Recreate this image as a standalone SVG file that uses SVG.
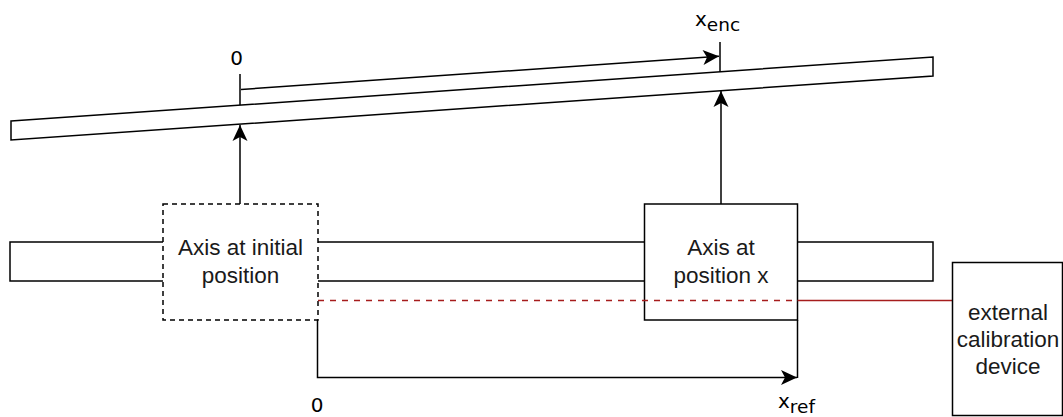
<svg xmlns="http://www.w3.org/2000/svg" width="1063" height="417" viewBox="0 0 1063 417">
<defs>
<style>
.ln{fill:none;stroke:#000;stroke-width:1.5}
.box{fill:#fff;stroke:#000;stroke-width:1.5}
.dash{stroke-dasharray:5 4}
.red{fill:none;stroke:#a61c1c;stroke-width:1.5}
.t{font-family:"Liberation Sans",Arial,sans-serif;font-size:22.5px;fill:#1a1a1a;text-anchor:middle}
.m{font-family:"DejaVu Sans",Verdana,sans-serif;font-size:20px;fill:#000}
.s{font-size:18.5px}
</style>
<marker id="arr" markerUnits="userSpaceOnUse" markerWidth="17" markerHeight="16" refX="16" refY="7.5" orient="auto" overflow="visible">
<path d="M0,0 L16,7.5 L0,15 L4,7.5 Z" fill="#000"/>
</marker>
</defs>
<g id="encoder-scale">
<polygon class="box" points="11,121 933,57 933,76 11,140"/>
</g>
<g id="axis-rail">
<rect class="box" x="10" y="242" width="923" height="39"/>
</g>
<g id="connectors">
<line class="ln" x1="240" y1="74" x2="240" y2="105"/>
<line class="ln" x1="720" y1="42" x2="720" y2="72"/>
<line class="ln" x1="241" y1="89.5" x2="719" y2="56.3" marker-end="url(#arr)"/>
<line class="ln" x1="240" y1="204" x2="240" y2="125" marker-end="url(#arr)"/>
<line class="ln" x1="721" y1="204" x2="721" y2="91" marker-end="url(#arr)"/>
<path class="ln" d="M317.5,320 V377.5 H797" marker-end="url(#arr)"/>
<line class="ln" x1="797.5" y1="320" x2="797.5" y2="378"/>
</g>
<g id="axis-initial">
<rect class="box dash" x="163" y="204" width="155" height="116"/>
<text class="t" x="240.5" y="255">Axis at initial</text>
<text class="t" x="240.5" y="283">position</text>
</g>
<g id="axis-x">
<rect class="box" x="644.5" y="204" width="153" height="116"/>
<text class="t" x="721" y="255">Axis at</text>
<text class="t" x="721" y="283">position x</text>
</g>
<g id="calibration-line">
<line class="red" x1="318" y1="300.5" x2="797.5" y2="300.5" stroke-dasharray="6 6"/>
<line class="red" x1="797.5" y1="300.5" x2="952" y2="300.5"/>
</g>
<g id="external-device">
<rect class="box" x="952.5" y="262.5" width="110" height="153"/>
<text class="t" x="1008" y="320">external</text>
<text class="t" x="1008" y="347">calibration</text>
<text class="t" x="1008" y="374">device</text>
</g>
<g id="labels">
<text class="m" x="236.5" y="65" text-anchor="middle">0</text>
<text class="m" x="317" y="412" text-anchor="middle">0</text>
<text class="m" x="695" y="26">x<tspan class="s" dy="5">enc</tspan></text>
<text class="m" x="778" y="408">x<tspan class="s" dy="5">ref</tspan></text>
</g>
</svg>
